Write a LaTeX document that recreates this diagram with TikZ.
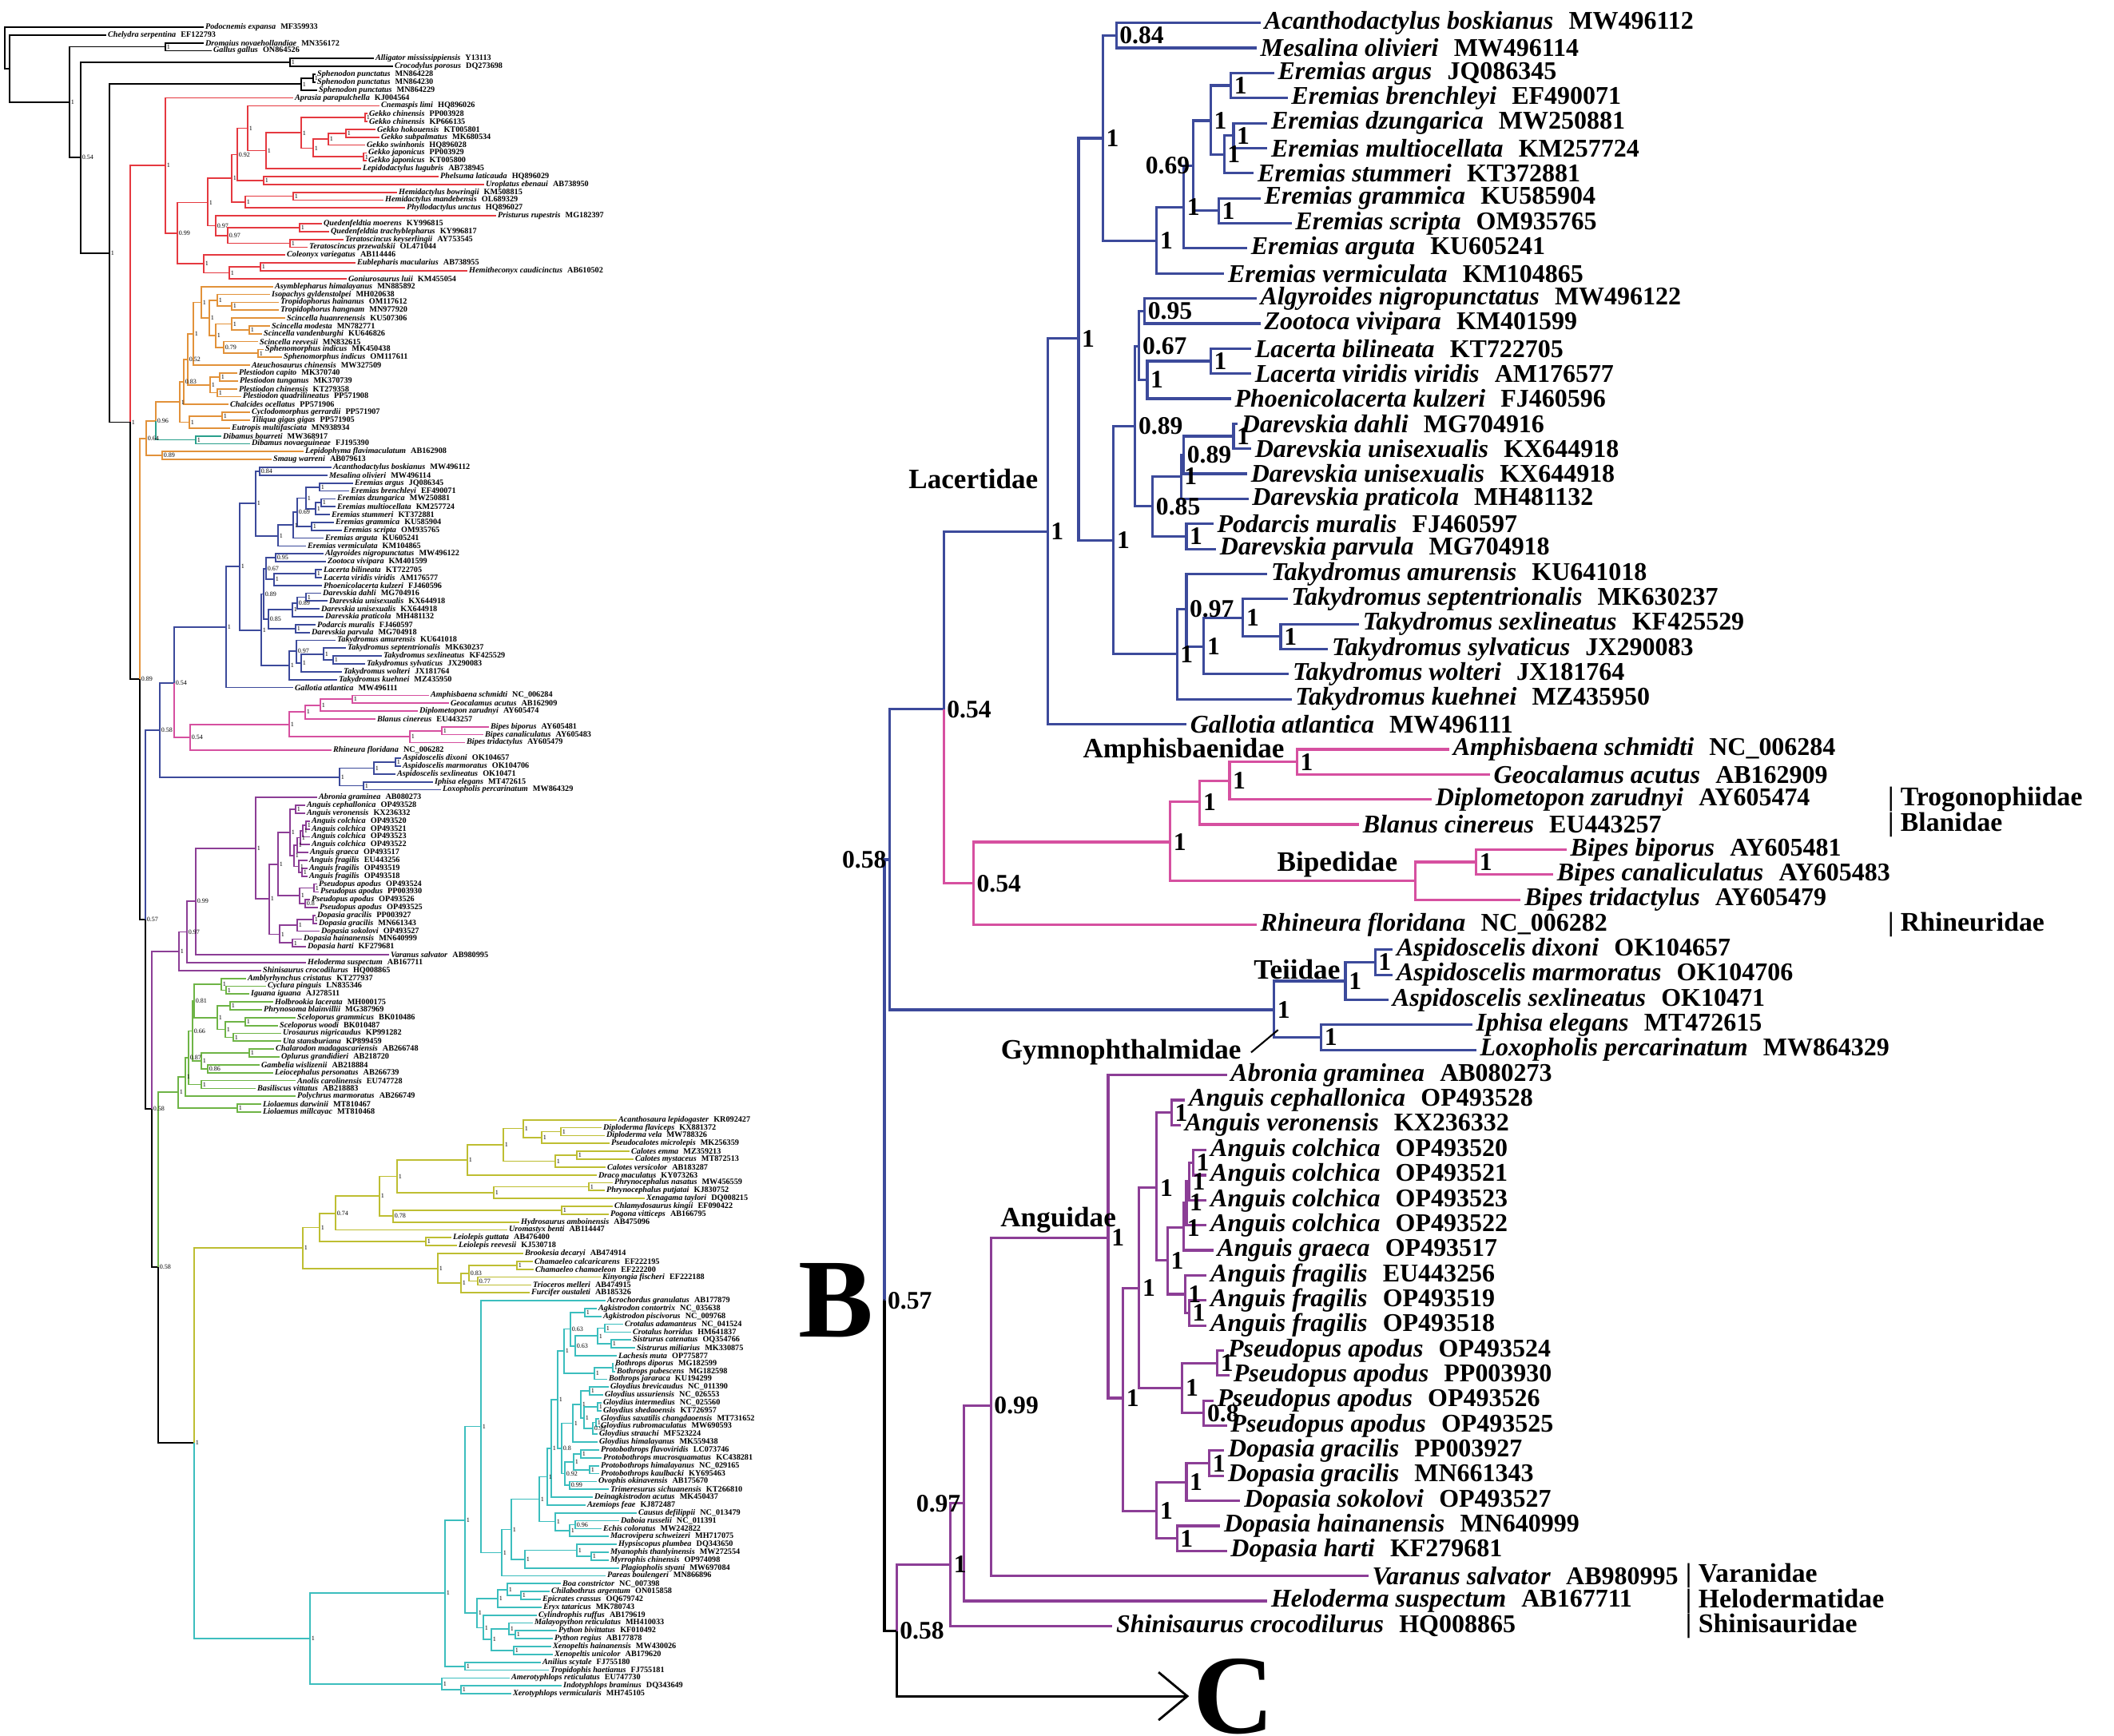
\documentclass[tikz,border=0pt]{standalone}
\usepackage{fontspec}
\setmainfont{Liberation Serif}
\usetikzlibrary{arrows.meta,positioning}
\definecolor{cred}{RGB}{229,57,64}
\definecolor{corange}{RGB}{226,146,58}
\definecolor{cteal}{RGB}{42,160,140}
\definecolor{cblue}{RGB}{60,74,155}
\definecolor{cpink}{RGB}{214,80,160}
\definecolor{cpurple}{RGB}{140,62,150}
\definecolor{cgreen}{RGB}{110,180,70}
\definecolor{colive}{RGB}{190,190,50}
\definecolor{ccyan}{RGB}{60,190,190}
\newcommand{\taxon}[2]{\textbf{\textit{#1}}\hspace{0.6em}\textbf{#2}}
\begin{document}
\begin{tikzpicture}[
	ltip/.style={anchor=west, inner sep=0.4pt, font=\fontsize{2.9}{3}\selectfont},
	lsup/.style={anchor=west, inner sep=0.3pt, font=\fontsize{2.3}{2.5}\selectfont},
	btip/.style={anchor=west, inner sep=1.2pt, font=\fontsize{9.1}{10}\selectfont},
	bsup/.style={anchor=west, inner sep=1pt, font=\fontsize{9}{10}\selectfont\bfseries},
	clade/.style={font=\fontsize{10}{12}\selectfont\bfseries},
	fam/.style={anchor=west, inner sep=0pt, font=\fontsize{9.6}{11}\selectfont\bfseries},
	l_br/.style={line width=0.5pt},
	b_br/.style={line width=0.9pt}]
	\path[use as bounding box] (0,0) rectangle (264.6mm,-217.3mm);
	
	% ---------- A: whole tree ----------
	\begin{scope}[x=0.1mm, y=-0.984mm, yshift=-2.416mm]
		\foreach \r/\x/\s/\a in {1/255/Podocnemis expansa/MF359933, 2/133/Chelydra serpentina/EF122793,
			3/255/Dromaius novaehollandiae/MN356172, 4/265/Gallus gallus/ON864526,
			5/468/Alligator mississippiensis/Y13113, 6/492/Crocodylus porosus/DQ273698,
			7/395/Sphenodon punctatus/MN864228, 8/395/Sphenodon punctatus/MN864230, 9/397/Sphenodon punctatus/MN864229,
			10/367/Aprasia parapulchella/KJ004564, 11/475/Cnemaspis limi/HQ896026,
			12/460/Gekko chinensis/PP003928, 13/460/Gekko chinensis/KP666135, 14/470/Gekko hokouensis/KT005801,
			15/475/Gekko subpalmatus/MK680534, 16/457/Gekko swinhonis/HQ896028, 17/459/Gekko japonicus/PP003929,
			18/459/Gekko japonicus/KT005800, 19/452/Lepidodactylus lugubris/AB738945, 20/549/Phelsuma laticauda/HQ896029,
			21/606/Uroplatus ebenaui/AB738950, 22/497/Hemidactylus bowringii/KM508815, 23/480/Hemidactylus mandebensis/OL689329,
			24/507/Phyllodactylus unctus/HQ896027, 25/621/Pristurus rupestris/MG182397, 26/403/Quedenfeldtia moerens/KY996815,
			27/412/Quedenfeldtia trachyblepharus/KY996817, 28/430/Teratoscincus keyserlingii/AY753545,
			29/385/Teratoscincus przewalskii/OL471044, 30/357/Coleonyx variegatus/AB114446, 31/445/Eublepharis macularius/AB738955,
			32/585/Hemitheconyx caudicinctus/AB610502, 33/434/Goniurosaurus luii/KM455054,
			34/342/Asymblepharus himalayanus/MN885892, 35/338/Isopachys gyldenstolpei/MH020638,
			36/349/Tropidophorus hainanus/OM117612, 37/349/Tropidophorus hangnam/MN977920,
			38/357/Scincella huanrenensis/KU507306, 39/338/Scincella modesta/MN782771, 40/328/Scincella vandenburghi/KU646826,
			41/323/Scincella reevesii/MN832615, 42/330/Sphenomorphus indicus/MK450438, 43/353/Sphenomorphus indicus/OM117611,
			44/313/Ateuchosaurus chinensis/MW327509, 45/297/Plestiodon capito/MK370740, 46/298/Plestiodon tunganus/MK370739,
			47/297/Plestiodon chinensis/KT279358, 48/302/Plestiodon quadrilineatus/PP571908, 49/286/Chalcides ocellatus/PP571906,
			50/313/Cyclodomorphus gerrardii/PP571907, 51/313/Tiliqua gigas gigas/PP571905, 52/288/Eutropis multifasciata/MN938934,
			53/277/Dibamus bourreti/MW368917, 54/313/Dibamus novaeguineae/FJ195390,
			55/380/Lepidophyma flavimaculatum/AB162908, 56/340/Smaug warreni/AB079613,
			57/415/Acanthodactylus boskianus/MW496112, 58/410/Mesalina olivieri/MW496114, 59/442/Eremias argus/JQ086345,
			60/437/Eremias brenchleyi/EF490071, 61/420/Eremias dzungarica/MW250881, 62/420/Eremias multiocellata/KM257724,
			63/413/Eremias stummeri/KT372881, 64/418/Eremias grammica/KU585904, 65/428/Eremias scripta/OM935765,
			66/405/Eremias arguta/KU605241, 67/383/Eremias vermiculata/KM104865, 68/405/Algyroides nigropunctatus/MW496122,
			69/408/Zootoca vivipara/KM401599, 70/403/Lacerta bilineata/KT722705, 71/403/Lacerta viridis viridis/AM176577,
			72/403/Phoenicolacerta kulzeri/FJ460596, 73/402/Darevskia dahli/MG704916, 74/410/Darevskia unisexualis/KX644918,
			75/400/Darevskia unisexualis/KX644918, 76/405/Darevskia praticola/MH481132, 77/395/Podarcis muralis/FJ460597,
			78/388/Darevskia parvula/MG704918, 79/420/Takydromus amurensis/KU641018, 80/433/Takydromus septentrionalis/MK630237,
			81/478/Takydromus sexlineatus/KF425529, 82/457/Takydromus sylvaticus/JX290083, 83/428/Takydromus wolteri/JX181764,
			84/422/Takydromus kuehnei/MZ435950, 85/367/Gallotia atlantica/MW496111,
			86/537/Amphisbaena schmidti/NC\_006284, 87/562/Geocalamus acutus/AB162909, 88/523/Diplometopon zarudnyi/AY605474,
			89/470/Blanus cinereus/EU443257, 90/612/Bipes biporus/AY605481, 91/605/Bipes canaliculatus/AY605483,
			92/582/Bipes tridactylus/AY605479, 93/415/Rhineura floridana/NC\_006282,
			94/502/Aspidoscelis dixoni/OK104657, 95/502/Aspidoscelis marmoratus/OK104706, 96/495/Aspidoscelis sexlineatus/OK10471,
			97/542/Iphisa elegans/MT472615, 98/552/Loxopholis percarinatum/MW864329,
			99/397/Abronia graminea/AB080273, 100/382/Anguis cephallonica/OP493528, 101/382/Anguis veronensis/KX236332,
			102/388/Anguis colchica/OP493520, 103/388/Anguis colchica/OP493521, 104/388/Anguis colchica/OP493523,
			105/388/Anguis colchica/OP493522, 106/386/Anguis graeca/OP493517, 107/385/Anguis fragilis/EU443256,
			108/385/Anguis fragilis/OP493519, 109/385/Anguis fragilis/OP493518, 110/397/Pseudopus apodus/OP493524,
			111/399/Pseudopus apodus/PP003930, 112/388/Pseudopus apodus/OP493526, 113/398/Pseudopus apodus/OP493525,
			114/395/Dopasia gracilis/PP003927, 115/397/Dopasia gracilis/MN661343, 116/400/Dopasia sokolovi/OP493527,
			117/378/Dopasia hainanensis/MN640999, 118/383/Dopasia harti/KF279681, 119/487/Varanus salvator/AB980995,
			120/383/Heloderma suspectum/AB167711, 121/327/Shinisaurus crocodilurus/HQ008865,
			122/308/Amblyrhynchus cristatus/KT277937, 123/333/Cyclura pinguis/LN835346, 124/312/Iguana iguana/AJ278511,
			125/342/Holbrookia lacerata/MH000175, 126/328/Phrynosoma blainvillii/MG387969, 127/370/Sceloporus grammicus/BK010486,
			128/348/Sceloporus woodi/BK010487, 129/352/Urosaurus nigricaudus/KP991282, 130/352/Uta stansburiana/KP899459,
			131/343/Chalarodon madagascariensis/AB266748, 132/350/Oplurus grandidieri/AB218720, 133/325/Gambelia wislizenii/AB218884,
			134/342/Leiocephalus personatus/AB266739, 135/370/Anolis carolinensis/EU747728, 136/320/Basiliscus vittatus/AB218883,
			137/370/Polychrus marmoratus/AB266749, 138/327/Liolaemus darwinii/MT810467, 139/327/Liolaemus millcayac/MT810468,
			140/772/Acanthosaura lepidogaster/KR092427, 141/753/Diploderma flaviceps/KX881372, 142/757/Diploderma vela/MW788326,
			143/763/Pseudocalotes microlepis/MK256359, 144/788/Calotes emma/MZ359213, 145/793/Calotes mystaceus/MT872513,
			146/758/Calotes versicolor/AB183287, 147/747/Draco maculatus/KY073263, 148/767/Phrynocephalus nasatus/MW456559,
			149/757/Phrynocephalus putjatai/KJ830752, 150/807/Xenagama taylori/DQ008215, 151/767/Chlamydosaurus kingii/EF090422,
			152/762/Pogona vitticeps/AB166795, 153/650/Hydrosaurus amboinensis/AB475096, 154/635/Uromastyx benti/AB114447,
			155/565/Leiolepis guttata/AB476400, 156/572/Leiolepis reevesii/KJ530718, 157/655/Brookesia decaryi/AB474914,
			158/667/Chamaeleo calcaricarens/EF222195, 159/668/Chamaeleo chamaeleon/EF222200, 160/752/Kinyongia fischeri/EF222188,
			161/665/Trioceros melleri/AB474915, 162/663/Furcifer oustaleti/AB185326,
			163/758/Acrochordus granulatus/AB177879, 164/747/Agkistrodon contortrix/NC\_035638, 165/753/Agkistrodon piscivorus/NC\_009768,
			166/780/Crotalus adamanteus/NC\_041524, 167/790/Crotalus horridus/HM641837, 168/790/Sistrurus catenatus/OQ354766,
			169/795/Sistrurus miliarius/MK330875, 170/772/Lachesis muta/OP775877, 171/768/Bothrops diporus/MG182599,
			172/770/Bothrops pubescens/MG182598, 173/760/Bothrops jararaca/KU194299, 174/762/Gloydius brevicaudus/NC\_011390,
			175/755/Gloydius ussuriensis/NC\_026553, 176/753/Gloydius intermedius/NC\_025560, 177/753/Gloydius shedaoensis/KT726957,
			178/750/Gloydius saxatilis changdaoensis/MT731652, 179/750/Gloydius rubromaculatus/MW690593,
			180/748/Gloydius strauchi/MF523224, 181/748/Gloydius himalayanus/MK559438, 182/750/Protobothrops flavoviridis/LC073746,
			183/753/Protobothrops mucrosquamatus/KC438281, 184/750/Protobothrops himalayanus/NC\_029165,
			185/750/Protobothrops kaulbacki/KY695463, 186/747/Ovophis okinavensis/AB175670, 187/762/Trimeresurus sichuanensis/KT266810,
			188/742/Deinagkistrodon acutus/MK450437, 189/733/Azemiops feae/KJ872487, 190/797/Causus defilippii/NC\_013479,
			191/775/Daboia russelii/NC\_011391, 192/753/Echis coloratus/MW242822, 193/762/Macrovipera schweizeri/MH717075,
			194/772/Hypsiscopus plumbea/DQ343650, 195/762/Myanophis thanlyinensis/MW272554, 196/762/Myrrophis chinensis/OP974098,
			197/775/Plagiopholis styani/MW697084, 198/758/Pareas boulengeri/MN866896, 199/702/Boa constrictor/NC\_007398,
			200/688/Chilabothrus argentum/ON015858, 201/677/Epicrates crassus/OQ679742, 202/678/Eryx tataricus/MK780743,
			203/672/Cylindrophis ruffus/AB179619, 204/667/Malayopython reticulatus/MH410033, 205/697/Python bivittatus/KF010492,
			206/692/Python regius/AB177878, 207/690/Xenopeltis hainanensis/MW430026, 208/692/Xenopeltis unicolor/AB179620,
			209/677/Anilius scytale/FJ755180, 210/687/Tropidophis haetianus/FJ755181, 211/638/Amerotyphlops reticulatus/EU747730,
			212/703/Indotyphlops braminus/DQ343649, 213/640/Xerotyphlops vermicularis/MH745105}
		\node[ltip] (t\r) at (\x,\r) {\taxon{\s}{\a}};
		
		\foreach \n/\x/\r in {r0/6/3.6, r1/12/6.3, nA/87/10.55, bird/207/3.5, nB/101/17.6, croc/363/5.5, nC/137/29.75,
			sph1/392/7.5, sph2/377/8.25, nD/163/51.25, nF/175/83.9, nH/182/114.5, nM/190/138.6, nN/198/158.7, nK/243/181.1,
			g0/207/18.6, g1/222/27.2, g2/260/23.3, g3/255/31.1, g3b/287/32.25, ge/326/31.5, g4/290/20.2, g5/270/26.25,
			g5b/285/27.5, gq/375/26.5, gt/363/28.5, g6/297/17.2, g7/307/23.25, gh/367/22.5, g8/310/13.85, g9/330/20.5,
			g10/333/16.7, g11/377/14.45, g12/457/12.5, g13/392/16.4, g14/411/15.25, g15/455/17.5, g16/433/14.5,
			o1/290/36.5, o2/272/35.75, o3/252/36, o4/312/39.5, o5/290/38.75, o6/323/42.5, o7/280/41.75, o8/270/40.25,
			o9/262/38, o10/242/40, o11/275/45.5, o12/272/47.5, o13/263/46.5, o14/235/43.25, o15/230/46.1, o16/278/50.5,
			o17/237/51.25, o18/225/48.7, o19/195/51.1, o20/203/55.5, o21/183/53.3, dib/245/53.5,
			lo/200/90.4, la/218/84.4, e0/325/57.5, e1/400/59.5, e2/402/61.5, e3/395/62.25, e4/383/60.9, e5/390/64.5,
			e6/372/62.7, e7/367/64.35, e8/348/65.7, e9/320/61.6, l1/345/68.5, l2/395/70.5, l3/343/71.25, l4/333/69.9,
			v1/383/73.5, v2/372/74.25, v3/366/75.1, v4/370/77.5, v5/336/76.3, l5/330/73.1, k1/417/81.5, k2/405/80.75,
			k3/377/81.9, k4/371/80.4, k5/362/82.2, l6/327/77.7, l7/300/69.6, l8/283/77.3,
			te1/495/94.5, te2/468/95.25, te3/455/97.5, te4/425/96.4,
			am1/441/86.5, am2/401/87.25, am3/382/88.1, am4/553/90.5, am5/513/91.25, am6/362/89.7, am7/238/91.35,
			ag/224/118.55, a97/234/116.1, a99/245/112.2, an/320/105.5, c1/370/100.5, c2/383/102.5, c3/379/103.25,
			c4/376/104.1, c5/372/105.05, c6/368/106.4, c7/363/103.45, f1/378/108.5, f2/374/107.75, p1/393/110.5,
			p2/382/112.5, p3/375/111.5, c8/348/107.5, dg1/392/114.5, dg2/372/115.25, dg3/366/117.5, dg4/350/116.4, c9/337/111.9,
			gr1/283/123.5, gr2/277/122.75, gr3/288/125.5, gr4/307/127.5, gr5/292/129.5, gr6/282/128.5, gr7/272/127,
			gr8/243/124.9, gr9/312/131.5, gr10/260/133.5, gr11/252/132.5, gr12/252/135.5, gr13/241/128.7, gr14/236/132.1,
			gr15/232/134.55, gr16/297/138.5, gr17/223/136.5,
			y1/702/141.5, y2/678/142.25, y3/655/141.1, y4/722/144.5, y5/695/145.25, y6/630/143.2, y7/585/145.1,
			y8/737/148.5, y9/618/149.25, y10/497/147.2, y11/703/151.5, y12/492/152.25, y13/475/149.7, y14/420/151.9,
			y15/533/155.5, y16/400/153.7, y17/647/158.5, y18/598/160.5, y19/587/159.5, y20/577/160.75, y21/548/158.9, y22/379/156.3,
			sn/388/206, ale/557/200.2, sc2/553/211.75, sc1/577/212.5, ant/582/209.5, s1/582/190.9, s2/602/179,
			b4/597/202.7, b3/623/200.9, b2/635/199.75, bb1/652/200.5, p4s/605/204.6, p3s/615/206.1, p2s/637/204.75,
			p1s/645/205.5, x1/643/207.5, c0/628/195.05, col/640/192.1, cb/657/195.9, cb1/722/194.75, cb2/740/195.5,
			v0/675/188.25, vi3/695/191.1, vi2/713/192.25, vi1/720/191.5, cr3/685/185.4, cr2/690/181.8, cr1/698/175.6,
			grA/706/169.4, ag63/714/166.6, agk/732/164.5, la63/720/168.75, cs/748/167.5, cro/757/166.5, sis/765/168.5,
			bo1/767/171.5, bo2/744/172.25, grB/703/181.8, g1s/738/174.5, g2s/748/176.5, g3s/746/178.5, g4s/742/179.25,
			g5s/731/177.9, g6s/727/176.2, g7s/717/178.6, pp1/727/182.5, pp2/738/184.5, pp3/718/183.5, ov/713/186.5, p4p/707/185}
		\coordinate (\n) at (\x,\r);
		
		\begin{scope}[l_br]
			\foreach \p/\c in {r0/t1, r0/r1, r1/t2, r1/nA, nA/bird, nA/nB, bird/t3, bird/t4, nB/croc, nB/nC, croc/t5, croc/t6,
				nC/sph2, nC/nD, sph2/sph1, sph2/t9, sph1/t7, sph1/t8, nD/nF, nF/nH, nH/nM, nM/nN, nN/nK}
			\draw (\p) |- (\c);
			\foreach \p/\c in {nD/g0, g0/t10, g0/g1, g1/g2, g1/g3, g2/g4, g2/g5, g4/g6, g4/g7, g6/g8, g6/g9, g8/t11, g8/g10,
				g10/g11, g10/t19, g11/g12, g11/g13, g12/t12, g12/t13, g13/g14, g13/g15, g14/g16, g14/t16, g16/t14, g16/t15,
				g15/t17, g15/t18, g9/t20, g9/t21, g7/gh, g7/t24, gh/t22, gh/t23, g5/t25, g5/g5b, g5b/gq, g5b/gt, gq/t26,
				gq/t27, gt/t28, gt/t29, g3/t30, g3/g3b, g3b/ge, g3b/t33, ge/t31, ge/t32}
			\draw[cred] (\p) |- (\c);
			\foreach \p/\c in {nF/o21, o21/o19, o21/o20, o19/o18, o18/o15, o18/o17, o15/o14, o15/t49, o14/o10, o14/o13,
				o10/o3, o10/t44, o3/t34, o3/o9, o9/o2, o9/o8, o2/t35, o2/o1, o1/t36, o1/t37, o8/o5, o8/o7, o5/t38, o5/o4,
				o4/t39, o4/t40, o7/t41, o7/o6, o6/t42, o6/t43, o13/o11, o13/o12, o11/t45, o11/t46, o12/t47, o12/t48,
				o17/o16, o17/t52, o16/t50, o16/t51, o20/t55, o20/t56}
			\draw[corange] (\p) |- (\c);
			\foreach \p/\c in {o19/dib, dib/t53, dib/t54}
			\draw[cteal] (\p) |- (\c);
			\foreach \p/\c in {nH/lo, lo/la, lo/te4, la/l8, l8/l7, l8/t85, l7/e9, l7/l6, e9/e0, e9/e8, e0/t57, e0/t58,
				e8/e7, e8/t67, e7/e6, e7/t66, e6/e4, e6/e5, e4/e1, e4/e3, e1/t59, e1/t60, e3/e2, e3/t63, e2/t61, e2/t62,
				e5/t64, e5/t65, l6/l5, l6/k5, l5/l4, l5/v5, l4/l1, l4/l3, l1/t68, l1/t69, l3/l2, l3/t72, l2/t70, l2/t71,
				v5/v3, v5/v4, v3/v2, v3/t76, v2/v1, v2/t75, v1/t73, v1/t74, v4/t77, v4/t78, k5/k4, k5/t84, k4/t79, k4/k3,
				k3/k2, k3/t83, k2/t80, k2/k1, k1/t81, k1/t82, te4/te2, te4/te3, te2/te1, te2/t96, te1/t94, te1/t95,
				te3/t97, te3/t98}
			\draw[cblue] (\p) |- (\c);
			\foreach \p/\c in {la/am7, am7/am6, am7/t93, am6/am3, am6/am5, am3/am2, am3/t89, am2/am1, am2/t88, am1/t86,
				am1/t87, am5/am4, am5/t92, am4/t90, am4/t91}
			\draw[cpink] (\p) |- (\c);
			\foreach \p/\c in {nM/ag, ag/a97, ag/t121, a97/a99, a97/t120, a99/an, a99/t119, an/t99, an/c9, c9/c8, c9/dg4,
				c8/c7, c8/p3, c7/c1, c7/c6, c1/t100, c1/t101, c6/c5, c6/f2, c5/c4, c5/t106, c4/c3, c4/t105, c3/c2, c3/t104,
				c2/t102, c2/t103, f2/t107, f2/f1, f1/t108, f1/t109, p3/p1, p3/p2, p1/t110, p1/t111, p2/t112, p2/t113,
				dg4/dg2, dg4/dg3, dg2/dg1, dg2/t116, dg1/t114, dg1/t115, dg3/t117, dg3/t118}
			\draw[cpurple] (\p) |- (\c);
			\foreach \p/\c in {nN/gr17, gr17/gr15, gr17/gr16, gr15/gr14, gr15/t137, gr14/gr13, gr14/gr12, gr13/gr8,
				gr13/gr11, gr8/gr2, gr8/gr7, gr2/t122, gr2/gr1, gr1/t123, gr1/t124, gr7/gr3, gr7/gr6, gr3/t125, gr3/t126,
				gr6/gr4, gr6/gr5, gr4/t127, gr4/t128, gr5/t129, gr5/t130, gr11/gr9, gr11/gr10, gr9/t131, gr9/t132,
				gr10/t133, gr10/t134, gr12/t135, gr12/t136, gr16/t138, gr16/t139}
			\draw[cgreen] (\p) |- (\c);
			\foreach \p/\c in {nK/y22, y22/y16, y22/y21, y16/y14, y16/y15, y14/y13, y14/t154, y13/y10, y13/y12, y10/y7,
				y10/y9, y7/y6, y7/t147, y6/y3, y6/y5, y3/t140, y3/y2, y2/y1, y2/t143, y1/t141, y1/t142, y5/y4, y5/t146,
				y4/t144, y4/t145, y9/y8, y9/t150, y8/t148, y8/t149, y12/y11, y12/t153, y11/t151, y11/t152, y15/t155,
				y15/t156, y21/t157, y21/y20, y20/y19, y20/t162, y19/y17, y19/y18, y17/t158, y17/t159, y18/t160, y18/t161}
			\draw[colive] (\p) |- (\c);
			\foreach \p/\c in {nK/sn, sn/ale, sn/sc2, sc2/t211, sc2/sc1, sc1/t212, sc1/t213, ale/s1, ale/ant, ant/t209,
				ant/t210, s1/s2, s1/b4, s2/t163, s2/c0, c0/col, c0/t198, col/v0, col/cb, cb/cb1, cb/t197, cb1/t194, cb1/cb2,
				cb2/t195, cb2/t196, v0/cr3, v0/vi3, vi3/t190, vi3/vi2, vi2/vi1, vi2/t193, vi1/t191, vi1/t192, cr3/cr2,
				cr3/t189, cr2/cr1, cr2/t188, cr1/grA, cr1/grB, grA/ag63, grA/bo2, ag63/agk, ag63/la63, agk/t164, agk/t165,
				la63/cs, la63/t170, cs/cro, cs/sis, cro/t166, cro/t167, sis/t168, sis/t169, bo2/bo1, bo2/t173, bo1/t171,
				bo1/t172, grB/g7s, grB/p4p, g7s/g6s, g7s/t181, g6s/g1s, g6s/g5s, g1s/t174, g1s/t175, g5s/g2s, g5s/g4s,
				g2s/t176, g2s/t177, g4s/g3s, g4s/t180, g3s/t178, g3s/t179, p4p/pp3, p4p/ov, pp3/pp1, pp3/pp2, pp1/t182,
				pp1/t183, pp2/t184, pp2/t185, ov/t186, ov/t187, b4/b3, b4/p4s, b3/b2, b3/t202, b2/t199, b2/bb1, bb1/t200,
				bb1/t201, p4s/t203, p4s/p3s, p3s/p2s, p3s/x1, p2s/t204, p2s/p1s, p1s/t205, p1s/t206, x1/t207, x1/t208}
			\draw[ccyan] (\p) |- (\c);
		\end{scope}
		
		% posterior probabilities
		\foreach \n in {nA, bird, croc, nC, sph1, sph2, nD, g0, g2, g3, g3b, ge, g4, gq, gt, g7, gh, g8, g9, g10, g11,
			g12, g13, g14, g15, g16, o1, o2, o3, o4, o5, o6, o8, o9, o10, o11, o12, o13, o16, o17, o18, dib, e1, e2, e3,
			e4, e5, e7, e8, e9, l2, l3, l6, l7, l8, v1, v3, v4, k1, k2, k3, k5, te1, te2, te3, te4, am1, am2, am3, am4,
			am5, am6, ag, an, c1, c2, c3, c4, c5, c6, c7, c8, c9, f1, f2, p1, p3, dg1, dg2, dg3, dg4, gr1, gr2, gr3, gr4,
			gr5, gr6, gr7, gr9, gr11, gr12, gr15, gr16, gr17, y1, y2, y3, y4, y5, y6, y7, y8, y9, y10, y11, y13, y15,
			y16, y17, y20, y21, y22, nK, sn, ale, sc1, sc2, ant, s1, s2, b2, b3, b4, bb1, p1s, p2s, p3s, p4s, x1, c0,
			col, cb, cb1, cb2, v0, vi2, vi3, cr1, cr2, cr3, grA, agk, cs, cro, sis, bo1, bo2, g1s, g2s, g3s, g5s, g6s,
			g7s, pp1, pp2, pp3}
		\node[lsup] at (\n) {1};
		\foreach \n/\v in {nB/0.54, g1/0.99, g5/0.97, g5b/0.97, g6/0.92, o7/0.79, o14/0.52, o15/0.83, o19/0.96,
			o20/0.89, o21/0.64, nF/0.89, nH/0.57, nM/0.58, nN/0.58, lo/0.58, la/0.54, am7/0.54, e0/0.84, e6/0.69,
			l1/0.95, l4/0.67, l5/0.89, v2/0.89, v5/0.85, k4/0.97, a97/0.97, a99/0.99, p2/0.8, gr8/0.81, gr10/0.86,
			gr13/0.66, gr14/0.87, y12/0.78, y14/0.74, y18/0.77, y19/0.83, ag63/0.63, la63/0.63, vi1/0.96, g4s/0.99,
			ov/0.99, p4p/0.92, grB/0.8}
		\node[lsup] at (\n) {\v};
	\end{scope}
	
	% ---------- B: Lacertoidea and Anguimorpha ----------
	\begin{scope}[x=0.16875mm, y=-3.1354mm, yshift=0.2666mm]
		\foreach \r/\x/\s/\a in {1/935/Acanthodactylus boskianus/MW496112, 2/932/Mesalina olivieri/MW496114,
			3/945/Eremias argus/JQ086345, 4/955/Eremias brenchleyi/EF490071, 5/940/Eremias dzungarica/MW250881,
			6/940/Eremias multiocellata/KM257724, 7/930/Eremias stummeri/KT372881, 8/935/Eremias grammica/KU585904,
			9/958/Eremias scripta/OM935765, 10/925/Eremias arguta/KU605241, 11/908/Eremias vermiculata/KM104865,
			12/932/Algyroides nigropunctatus/MW496122, 13/935/Zootoca vivipara/KM401599, 14/928/Lacerta bilineata/KT722705,
			15/928/Lacerta viridis viridis/AM176577, 16/913/Phoenicolacerta kulzeri/FJ460596, 17/918/Darevskia dahli/MG704916,
			18/928/Darevskia unisexualis/KX644918, 19/925/Darevskia unisexualis/KX644918, 20/926/Darevskia praticola/MH481132,
			21/900/Podarcis muralis/FJ460597, 22/902/Darevskia parvula/MG704918, 23/940/Takydromus amurensis/KU641018,
			24/955/Takydromus septentrionalis/MK630237, 25/1008/Takydromus sexlineatus/KF425529,
			26/985/Takydromus sylvaticus/JX290083, 27/956/Takydromus wolteri/JX181764, 28/958/Takydromus kuehnei/MZ435950,
			29/880/Gallotia atlantica/MW496111, 30/1075/Amphisbaena schmidti/NC\_006284, 31/1105/Geocalamus acutus/AB162909,
			32/1062/Diplometopon zarudnyi/AY605474, 33/1008/Blanus cinereus/EU443257, 34/1162/Bipes biporus/AY605481,
			35/1152/Bipes canaliculatus/AY605483, 36/1128/Bipes tridactylus/AY605479, 37/932/Rhineura floridana/NC\_006282,
			38/1033/Aspidoscelis dixoni/OK104657, 39/1033/Aspidoscelis marmoratus/OK104706,
			40/1030/Aspidoscelis sexlineatus/OK10471, 41/1092/Iphisa elegans/MT472615, 42/1095/Loxopholis percarinatum/MW864329,
			43/910/Abronia graminea/AB080273, 44/879/Anguis cephallonica/OP493528, 45/876/Anguis veronensis/KX236332,
			46/895/Anguis colchica/OP493520, 47/895/Anguis colchica/OP493521, 48/895/Anguis colchica/OP493523,
			49/895/Anguis colchica/OP493522, 50/900/Anguis graeca/OP493517, 51/895/Anguis fragilis/EU443256,
			52/895/Anguis fragilis/OP493519, 53/895/Anguis fragilis/OP493518, 54/908/Pseudopus apodus/OP493524,
			55/912/Pseudopus apodus/PP003930, 56/900/Pseudopus apodus/OP493526, 57/910/Pseudopus apodus/OP493525,
			58/908/Dopasia gracilis/PP003927, 59/908/Dopasia gracilis/MN661343, 60/920/Dopasia sokolovi/OP493527,
			61/905/Dopasia hainanensis/MN640999, 62/910/Dopasia harti/KF279681, 63/1015/Varanus salvator/AB980995,
			64/940/Heloderma suspectum/AB167711, 65/825/Shinisaurus crocodilurus/HQ008865}
		\node[btip] (u\r) at (\x,\r) {\taxon{\s}{\a}};
		
		\foreach \n/\x/\r in {bE0/828/1.5, bE1/913/3.5, bE2/915/5.5, bE3/908/6.25, bE4/898/4.9, bE5/904/8.5,
			bE6/885/6.7, bE7/878/8.35, bE8/858/9.7, bE9/818/5.6, bL1/849/12.5, bL2/898/14.5, bL3/851/15.25,
			bL4/845/13.9, bD1/915/17.5, bD2/878/18.25, bD3/876/19.1, bD4/880/21.5, bD5/855/20.3, bL5/842/17.1,
			bT1/950/25.5, bT2/922/24.75, bT3/893/25.9, bT4/880/24.4, bT5/873/26.2, bL6/826/21.65, bL7/800/13.6,
			bL8/777/21.3, bA1/962/30.5, bA2/912/31.25, bA3/890/32.1, bA4/1095/34.5, bA5/1050/35.25, bA6/868/33.7,
			bA7/722/35.35, bLA/700/28.4, bTe1/1020/38.5, bTe2/998/39.25, bTe3/980/41.5, bTe4/945/40.4, bLo/660/34.4,
			bC1/869/44.5, bC2/885/46.5, bC3/882/47.25, bC4/880/48.1, bC5/878/49.1, bF1/882/52.5, bF2/879/51.75,
			bC6/866/50.4, bC7/858/47.5, bP1/903/54.5, bP2/893/56.5, bP3/877/55.5, bC8/845/51.5, bG1/897/58.5,
			bG2/880/59.25, bG3/873/61.5, bG4/858/60.4, bC9/833/55.9, bAn/822/49.5, b099/735/56.2, b097/715/60.1,
			bAM/705/62.55, bM/665/65.2, bH/656/52.0, cend/882/67.8}
		\coordinate (\n) at (\x,\r);
		
		\begin{scope}[b_br]
			\foreach \p/\c in {bH/bLo, bLo/bLA, bLo/bTe4, bLA/bL8, bL8/bL7, bL8/u29, bL7/bE9, bL7/bL6, bE9/bE0, bE9/bE8,
				bE0/u1, bE0/u2, bE8/bE7, bE8/u11, bE7/bE6, bE7/u10, bE6/bE4, bE6/bE5, bE4/bE1, bE4/bE3, bE1/u3, bE1/u4,
				bE3/bE2, bE3/u7, bE2/u5, bE2/u6, bE5/u8, bE5/u9, bL6/bL5, bL6/bT5, bL5/bL4, bL5/bD5, bL4/bL1, bL4/bL3,
				bL1/u12, bL1/u13, bL3/bL2, bL3/u16, bL2/u14, bL2/u15, bD5/bD3, bD5/bD4, bD3/bD2, bD3/u20, bD2/bD1,
				bD2/u19, bD1/u17, bD1/u18, bD4/u21, bD4/u22, bT5/bT4, bT5/u28, bT4/u23, bT4/bT3, bT3/bT2, bT3/u27,
				bT2/u24, bT2/bT1, bT1/u25, bT1/u26, bTe4/bTe2, bTe4/bTe3, bTe2/bTe1, bTe2/u40, bTe1/u38, bTe1/u39,
				bTe3/u41, bTe3/u42}
			\draw[cblue] (\p) |- (\c);
			\foreach \p/\c in {bLA/bA7, bA7/bA6, bA7/u37, bA6/bA3, bA6/bA5, bA3/bA2, bA3/u33, bA2/bA1, bA2/u32,
				bA1/u30, bA1/u31, bA5/bA4, bA5/u36, bA4/u34, bA4/u35}
			\draw[cpink] (\p) |- (\c);
			\foreach \p/\c in {bM/bAM, bAM/b097, bAM/u65, b097/b099, b097/u64, b099/bAn, b099/u63, bAn/u43, bAn/bC9,
				bC9/bC8, bC9/bG4, bC8/bC7, bC8/bP3, bC7/bC1, bC7/bC6, bC1/u44, bC1/u45, bC6/bC5, bC6/bF2, bC5/bC4,
				bC5/u50, bC4/bC3, bC4/u49, bC3/bC2, bC3/u48, bC2/u46, bC2/u47, bF2/u51, bF2/bF1, bF1/u52, bF1/u53,
				bP3/bP1, bP3/bP2, bP1/u54, bP1/u55, bP2/u56, bP2/u57, bG4/bG2, bG4/bG3, bG2/bG1, bG2/u60, bG1/u58,
				bG1/u59, bG3/u61, bG3/u62}
			\draw[cpurple] (\p) |- (\c);
			\draw (bH) |- (bM);
			\draw[-{Straight Barb[length=3.6mm, width=6mm, line width=0.8pt]}] (bM) |- (cend);
		\end{scope}
		
		\foreach \n in {bE1, bE2, bE3, bE4, bE5, bE7, bE8, bE9, bL2, bL3, bD1, bD3, bD4, bT1, bT2, bT3, bT5, bL6,
			bL7, bL8, bA1, bA2, bA3, bA4, bA6, bTe1, bTe2, bTe3, bTe4, bC1, bC2, bC3, bC4, bC5, bC6, bC7, bC8, bC9,
			bF1, bF2, bP1, bP3, bG1, bG2, bG3, bG4, bAn, bAM}
		\node[bsup] at (\n) {1};
		\foreach \n/\v in {bE0/0.84, bL1/0.95, bL4/0.67, bD2/0.89, bD5/0.85, bL5/0.89, bT4/0.97, bA7/0.54,
			bLA/0.54, bP2/0.8, b099/0.99, bH/0.57, bM/0.58}
		\node[bsup] at (\n) {\v};
		\foreach \n/\v in {bE6/0.69, bLo/0.58, b097/0.97}
		\node[bsup, anchor=east] at (\n) {\v};
		
		% clade names
		\node[clade] at (722,19.2) {Lacertidae};
		\node[clade] at (878,30.06) {Amphisbaenidae};
		\node[clade] at (992,34.6) {Bipedidae};
		\node[clade] at (962,38.8) {Teiidae};
		\node[clade, anchor=east] (gym) at (928,42.1) {Gymnophthalmidae};
		\draw[line width=0.6pt] (gym.east) -- (948,41.2);
		\node[clade] at (785,48.8) {Anguidae};
		\foreach \x/\r/\t in {1400/32/Trogonophiidae, 1400/33/Blanidae, 1400/37/Rhineuridae,
			1250/63/Varanidae, 1250/64/Helodermatidae, 1250/65/Shinisauridae}
		\node[fam] at (\x,\r) {|\ \t};
		
		\node[font=\fontsize{40}{40}\selectfont\bfseries] (bB) at (620,52.0) {B};
		\draw[b_br] (bB.east) -- (bH);
		\node[font=\fontsize{40}{40}\selectfont\bfseries, right=-2pt of cend] {C};
	\end{scope}
\end{tikzpicture}
\end{document}
